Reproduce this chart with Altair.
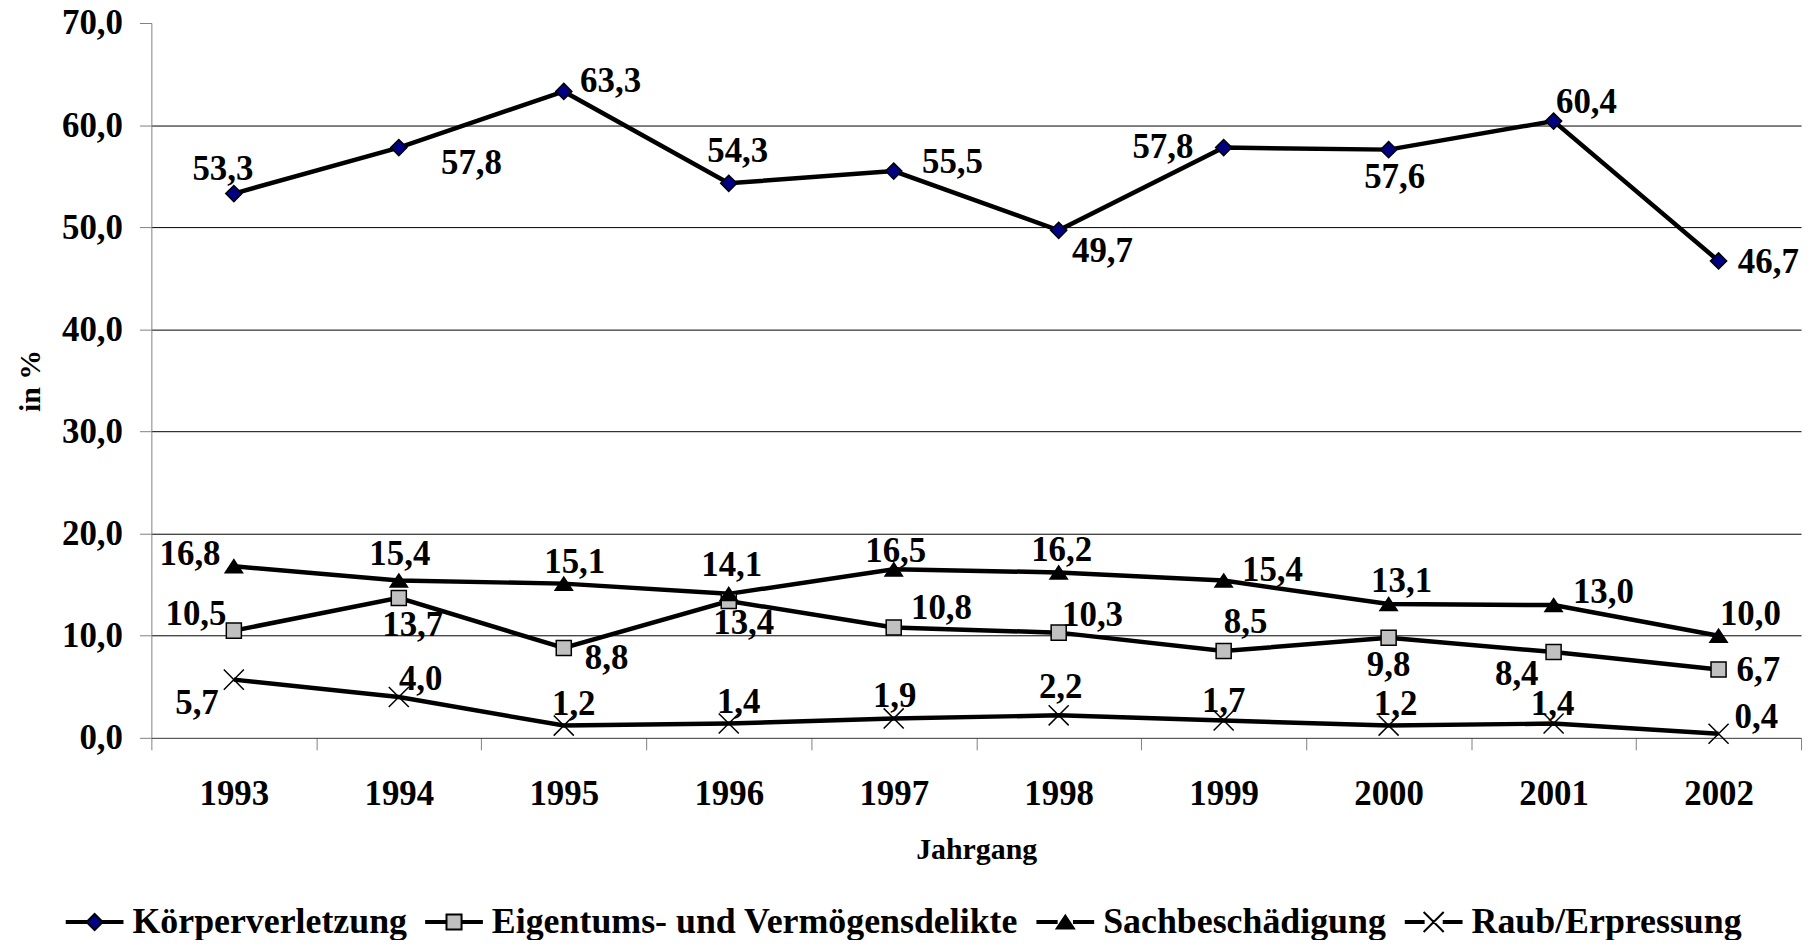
import altair as alt
import pandas as pd

# ---------------- data ----------------
years = [1993, 1994, 1995, 1996, 1997, 1998, 1999, 2000, 2001, 2002]
series = ["Körperverletzung", "Eigentums- und Vermögensdelikte",
          "Sachbeschädigung", "Raub/Erpressung"]
koerperverletzung = [53.3, 57.8, 63.3, 54.3, 55.5, 49.7, 57.8, 57.6, 60.4, 46.7]
eigentum = [10.5, 13.7, 8.8, 13.4, 10.8, 10.3, 8.5, 9.8, 8.4, 6.7]
sachbeschaedigung = [16.8, 15.4, 15.1, 14.1, 16.5, 16.2, 15.4, 13.1, 13.0, 10.0]
raub = [5.7, 4.0, 1.2, 1.4, 1.9, 2.2, 1.7, 1.2, 1.4, 0.4]
y_ticks = [0, 10, 20, 30, 40, 50, 60, 70]

# label nudges (pixels, relative to the marker) as placed in the original
nudge_k = [(-11, -25), (73, 16), (47, -10), (9, -32), (59, -9), (44, 21), (-61, -1), (6, 28), (33, -19), (50, 1)]
nudge_e = [(-38, -17), (14, 27), (43, 10), (15, 22), (48, -20), (34, -18), (22, -29), (0, 27), (-37, 22), (40, 1)]
nudge_s = [(-44, -12), (1, -27), (11, -22), (3, -29), (2, -18), (3, -22), (49, -11), (13, -23), (50, -13), (32, -22)]
nudge_r = [(-37, 24), (22, -18), (10, -22), (10, -22), (1, -22), (2, -28), (0, -20), (7, -22), (-1, -20), (38, -17)]

# ---------------- layout ----------------
W, H = 1657, 718
FONT = "Liberation Serif"
px_per_year = W / 10
px_per_unit = H / 70

values = [koerperverletzung, eigentum, sachbeschaedigung, raub]
nudges = [nudge_k, nudge_e, nudge_s, nudge_r]
rows = []
for s, vals, nd in zip(series, values, nudges):
    for yr, v, (dx, dy) in zip(years, vals, nd):
        rows.append({
            "serie": s, "year": yr, "value": v,
            "label": f"{v:.1f}".replace(".", ","),
            "lx": yr + dx / px_per_year,
            "ly": v - dy / px_per_unit,
        })
df = pd.DataFrame(rows)

# marker shapes (unit box, scaled by sqrt(size)/2)
marker_paths = [
    "M0,-0.29L0.29,0L0,0.29L-0.29,0Z",
    "M-0.27,-0.27L0.27,-0.27L0.27,0.27L-0.27,0.27Z",
    "M0,-0.235L0.31,0.235L-0.31,0.235Z",
    "M-0.36,-0.36L0.36,0.36M0.36,-0.36L-0.36,0.36",
]
marker_halfwidth = [0.29, 0.27, 0.31, 0.36]
fills = ["#000080", "#C0C0C0", "#000000", "#000000"]


def legend_path(path, a, h=0.036):
    """Legend key: line segment on both sides of the marker."""
    left = f"M-1,-{h}L-{a},-{h}L-{a},{h}L-1,{h}Z"
    right = f"M{a},-{h}L1,-{h}L1,{h}L{a},{h}Z"
    return f"{left}{right}{path}"


legend_paths = [legend_path(p, a) for p, a in zip(marker_paths, marker_halfwidth)]

xscale = alt.Scale(domain=[years[0] - 0.5, years[-1] + 0.5], nice=False, zero=False)
yscale = alt.Scale(domain=[y_ticks[0], y_ticks[-1]], nice=False, zero=False)

xaxis = alt.Axis(
    values=[y - 0.5 for y in years] + [years[-1] + 0.5],
    labelExpr=f"datum.value > {years[-1]} ? '' : format(datum.value + 0.5, 'd')",
    labelOffset=W / 20, labelFlush=False, labelOverlap=False, labelPadding=27,
    labelFont=FONT, labelFontSize=35, labelFontWeight="bold", labelColor="black",
    tickSize=12, tickColor="#808080", tickWidth=1,
    domainColor="#333333", domainWidth=1, grid=False,
    title="Jahrgang", titleFont=FONT, titleFontSize=30, titleFontWeight="bold",
    titleColor="black", titleX=W / 2, titleY=121, titleBaseline="alphabetic",
    titleAlign="center",
)
yaxis = alt.Axis(
    values=y_ticks,
    labelExpr="replace(format(datum.value, '.1f'), '.', ',')",
    labelFlush=False, labelPadding=17,
    labelFont=FONT, labelFontSize=35, labelFontWeight="bold", labelColor="black",
    tickSize=12, tickColor="#808080", tickWidth=1,
    domainColor="#808080", domainWidth=1,
    grid=True, gridColor="#000000", gridWidth=1,
    gridOpacity={"condition": {"test": f"datum.value == {y_ticks[0]} || datum.value == {y_ticks[-1]}", "value": 0}, "value": 1},
    title="in %", titleFont=FONT, titleFontSize=30, titleFontWeight="bold",
    titleColor="black", titleAngle=270, titleX=-112, titleY=H / 2,
    titleBaseline="alphabetic", titleAlign="center",
)

legend = alt.Legend(
    orient="none", legendX=-86, legendY=874, direction="horizontal", columns=4,
    title=None, padding=0,
    labelFont=FONT, labelFontSize=36, labelFontWeight="bold", labelColor="black",
    labelLimit=2000, labelOffset=9, columnPadding=15,
    symbolSize=3136, symbolStrokeWidth=2, symbolStrokeColor="black",
    symbolOpacity=1,
)

base = alt.Chart(df)

lines = base.mark_line(strokeWidth=4.5, strokeCap="butt", color="black").encode(
    x=alt.X("year:Q", scale=xscale, axis=xaxis),
    y=alt.Y("value:Q", scale=yscale, axis=yaxis),
    detail="serie:N",
    order="year:Q",
)

points = base.mark_point(filled=True, size=3136, stroke="black", strokeWidth=1.5,
                         opacity=1).encode(
    x=alt.X("year:Q", scale=xscale, axis=xaxis),
    y=alt.Y("value:Q", scale=yscale, axis=yaxis),
    shape=alt.Shape("serie:N", scale=alt.Scale(domain=series, range=marker_paths),
                    legend=None),
    fill=alt.Fill("serie:N", scale=alt.Scale(domain=series, range=fills),
                  legend=None),
)

# invisible layer that only provides the legend (line + marker keys)
legend_layer = base.mark_point(filled=True, size=3136, strokeWidth=2,
                               opacity=0).encode(
    x=alt.X("year:Q", scale=xscale, axis=xaxis),
    y=alt.Y("value:Q", scale=yscale, axis=yaxis),
    shape=alt.Shape("serie:N", scale=alt.Scale(domain=series, range=legend_paths),
                    legend=legend),
    fill=alt.Fill("serie:N", scale=alt.Scale(domain=series, range=fills),
                  legend=legend),
    stroke=alt.Stroke("serie:N", scale=alt.Scale(domain=series, range=["black"] * 4),
                      legend=legend),
)

labels = base.mark_text(font=FONT, fontSize=35, fontWeight="bold", color="black",
                        align="center", baseline="middle").encode(
    x=alt.X("lx:Q", scale=xscale, axis=xaxis),
    y=alt.Y("ly:Q", scale=yscale, axis=yaxis),
    text="label:N",
)

chart = alt.layer(lines, points, legend_layer, labels).resolve_scale(
    shape="independent", fill="independent", stroke="independent",
).properties(
    width=W, height=H,
    padding={"left": 144, "top": 13, "right": 9, "bottom": 201},
    autosize=alt.AutoSizeParams(type="none"),
    background="white",
).configure_view(stroke=None)

chart.save("out.html", embed_options={"renderer": "svg", "actions": False})
